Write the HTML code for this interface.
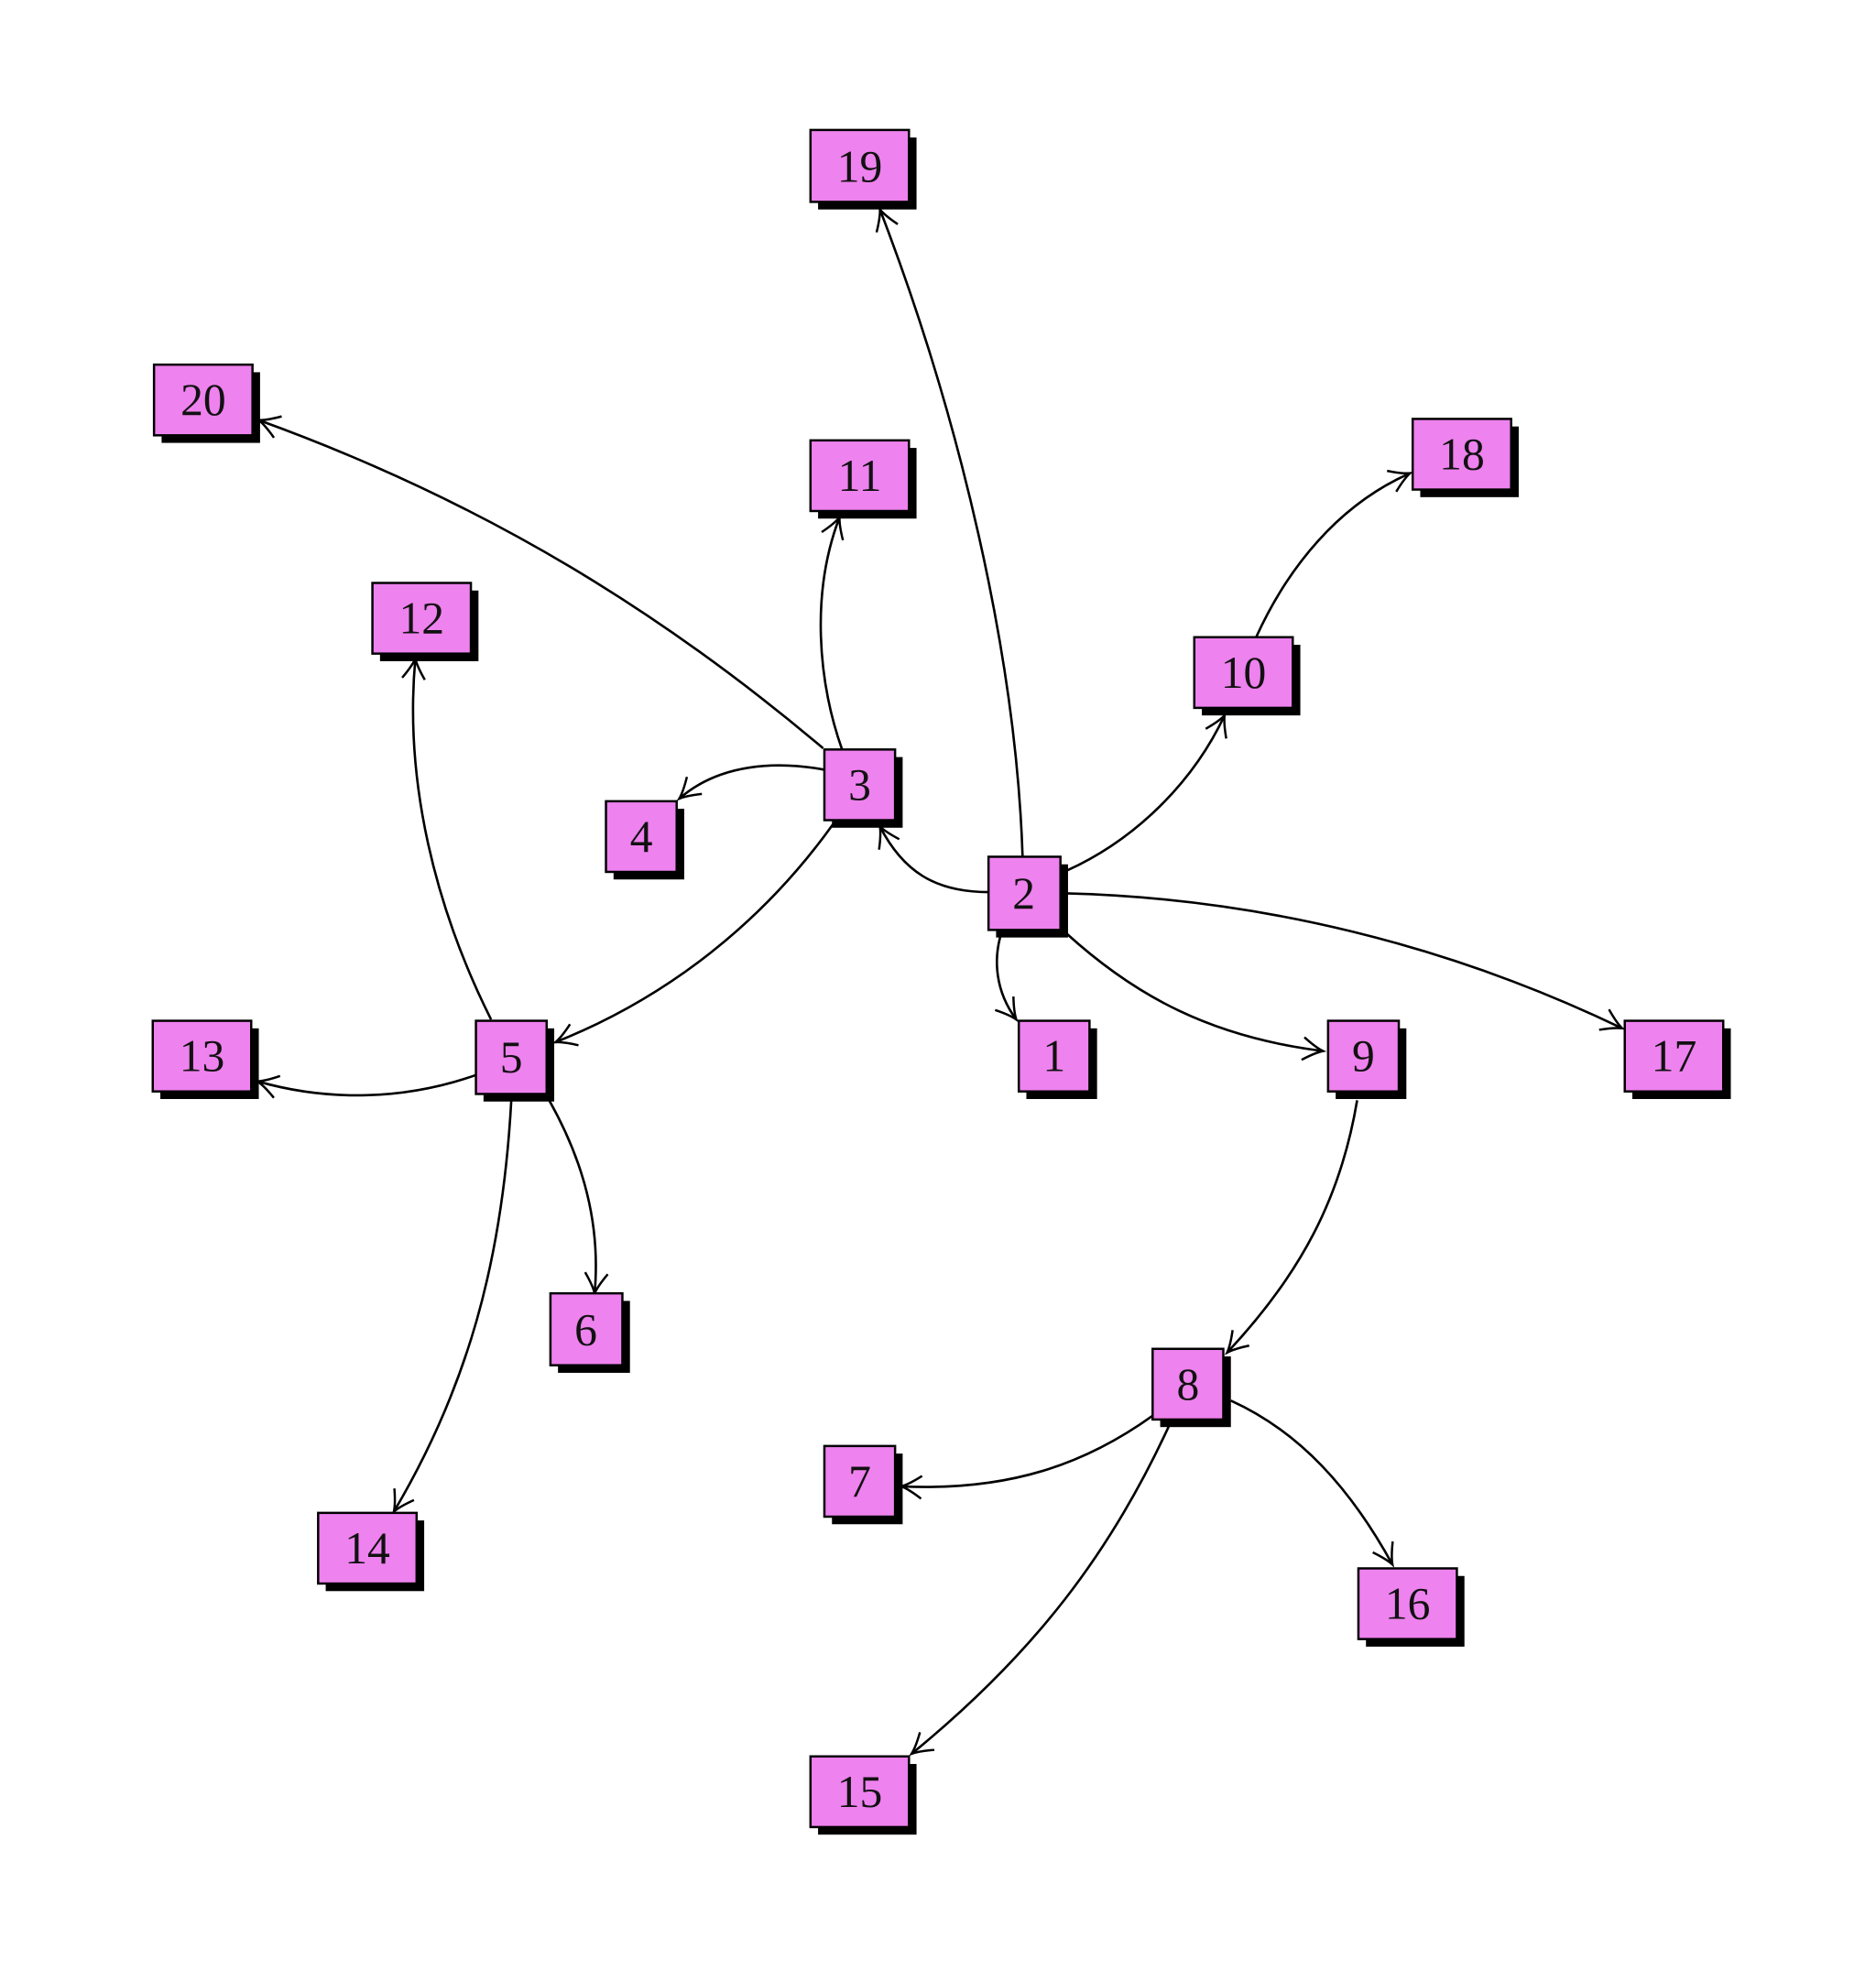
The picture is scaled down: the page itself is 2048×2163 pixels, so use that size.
<!DOCTYPE html>
<html><head><meta charset="utf-8"><style>
html,body{margin:0;padding:0;background:#fff;}
svg{display:block;}
text{font-family:"Liberation Serif",serif;font-size:36px;fill:#111;text-anchor:middle;dominant-baseline:central;}
</style></head><body>
<svg width="2048" height="2163" viewBox="0 0 1486 1570" preserveAspectRatio="none" xmlns="http://www.w3.org/2000/svg">
<defs>
<marker id="a" markerUnits="userSpaceOnUse" markerWidth="34" markerHeight="34" refX="0" refY="0" viewBox="-17 -17 34 34" orient="auto">
<path d="M-16,-9 Q-6,-2 0,0 Q-6,2 -16,9" fill="none" stroke="#000" stroke-width="1.8"/>
</marker>
</defs>
<g fill="none" stroke="#000" stroke-width="1.9" marker-end="url(#a)">
<path d="M810,679 C805,520 760,330 697,166"/>
<path d="M783,707 C740,707 715,690 697,655"/>
<path d="M845,690 C900,665 945,620 970,567"/>
<path d="M845,708 C1000,712 1150,750 1285,815"/>
<path d="M793,740 C787,760 788,785 805,808"/>
<path d="M845,740 C900,790 960,822 1048,833"/>
<path d="M1075,872 C1062,950 1030,1010 972,1072"/>
<path d="M913,1122 C860,1160 800,1182 714,1178"/>
<path d="M975,1110 C1030,1135 1070,1180 1103,1240"/>
<path d="M926,1130 C880,1230 820,1310 722,1390"/>
<path d="M652,593 C530,490 390,400 205,333"/>
<path d="M667,594 C648,540 642,470 665,410"/>
<path d="M653,610 C615,603 570,605 538,633"/>
<path d="M660,653 C605,730 530,790 440,826"/>
<path d="M389,808 C345,720 320,620 329,522"/>
<path d="M377,852 C320,872 260,873 204,857"/>
<path d="M435,872 C462,920 476,970 471,1025"/>
<path d="M405,872 C398,1000 370,1100 312,1198"/>
<path d="M995,505 C1020,450 1060,400 1117,375"/>
</g>
<g>
<g transform="translate(642,103)"><rect x="6" y="6" width="78" height="57" fill="#000"/><rect width="78" height="57" fill="#ee82ee" stroke="#000" stroke-width="1.8"/><text x="39" y="29">19</text></g>
<g transform="translate(122,289)"><rect x="6" y="6" width="78" height="56" fill="#000"/><rect width="78" height="56" fill="#ee82ee" stroke="#000" stroke-width="1.8"/><text x="39" y="28">20</text></g>
<g transform="translate(642,349)"><rect x="6" y="6" width="78" height="56" fill="#000"/><rect width="78" height="56" fill="#ee82ee" stroke="#000" stroke-width="1.8"/><text x="39" y="28">11</text></g>
<g transform="translate(1119,332)"><rect x="6" y="6" width="78" height="56" fill="#000"/><rect width="78" height="56" fill="#ee82ee" stroke="#000" stroke-width="1.8"/><text x="39" y="28">18</text></g>
<g transform="translate(295,462)"><rect x="6" y="6" width="78" height="56" fill="#000"/><rect width="78" height="56" fill="#ee82ee" stroke="#000" stroke-width="1.8"/><text x="39" y="28">12</text></g>
<g transform="translate(946,505)"><rect x="6" y="6" width="78" height="56" fill="#000"/><rect width="78" height="56" fill="#ee82ee" stroke="#000" stroke-width="1.8"/><text x="39" y="28">10</text></g>
<g transform="translate(653,594)"><rect x="6" y="6" width="56" height="56" fill="#000"/><rect width="56" height="56" fill="#ee82ee" stroke="#000" stroke-width="1.8"/><text x="28" y="28">3</text></g>
<g transform="translate(480,635)"><rect x="6" y="6" width="56" height="56" fill="#000"/><rect width="56" height="56" fill="#ee82ee" stroke="#000" stroke-width="1.8"/><text x="28" y="28">4</text></g>
<g transform="translate(783,679)"><rect x="6" y="6" width="57" height="58" fill="#000"/><rect width="57" height="58" fill="#ee82ee" stroke="#000" stroke-width="1.8"/><text x="28" y="29">2</text></g>
<g transform="translate(121,809)"><rect x="6" y="6" width="78" height="56" fill="#000"/><rect width="78" height="56" fill="#ee82ee" stroke="#000" stroke-width="1.8"/><text x="39" y="28">13</text></g>
<g transform="translate(377,809)"><rect x="6" y="6" width="56" height="58" fill="#000"/><rect width="56" height="58" fill="#ee82ee" stroke="#000" stroke-width="1.8"/><text x="28" y="29">5</text></g>
<g transform="translate(807,809)"><rect x="6" y="6" width="56" height="56" fill="#000"/><rect width="56" height="56" fill="#ee82ee" stroke="#000" stroke-width="1.8"/><text x="28" y="28">1</text></g>
<g transform="translate(1052,809)"><rect x="6" y="6" width="56" height="56" fill="#000"/><rect width="56" height="56" fill="#ee82ee" stroke="#000" stroke-width="1.8"/><text x="28" y="28">9</text></g>
<g transform="translate(1287,809)"><rect x="6" y="6" width="78" height="56" fill="#000"/><rect width="78" height="56" fill="#ee82ee" stroke="#000" stroke-width="1.8"/><text x="39" y="28">17</text></g>
<g transform="translate(436,1025)"><rect x="6" y="6" width="57" height="57" fill="#000"/><rect width="57" height="57" fill="#ee82ee" stroke="#000" stroke-width="1.8"/><text x="28" y="29">6</text></g>
<g transform="translate(913,1069)"><rect x="6" y="6" width="56" height="56" fill="#000"/><rect width="56" height="56" fill="#ee82ee" stroke="#000" stroke-width="1.8"/><text x="28" y="28">8</text></g>
<g transform="translate(653,1146)"><rect x="6" y="6" width="56" height="56" fill="#000"/><rect width="56" height="56" fill="#ee82ee" stroke="#000" stroke-width="1.8"/><text x="28" y="28">7</text></g>
<g transform="translate(1076,1243)"><rect x="6" y="6" width="78" height="56" fill="#000"/><rect width="78" height="56" fill="#ee82ee" stroke="#000" stroke-width="1.8"/><text x="39" y="28">16</text></g>
<g transform="translate(252,1199)"><rect x="6" y="6" width="78" height="56" fill="#000"/><rect width="78" height="56" fill="#ee82ee" stroke="#000" stroke-width="1.8"/><text x="39" y="28">14</text></g>
<g transform="translate(642,1392)"><rect x="6" y="6" width="78" height="56" fill="#000"/><rect width="78" height="56" fill="#ee82ee" stroke="#000" stroke-width="1.8"/><text x="39" y="28">15</text></g>
</g>
</svg>
</body></html>
